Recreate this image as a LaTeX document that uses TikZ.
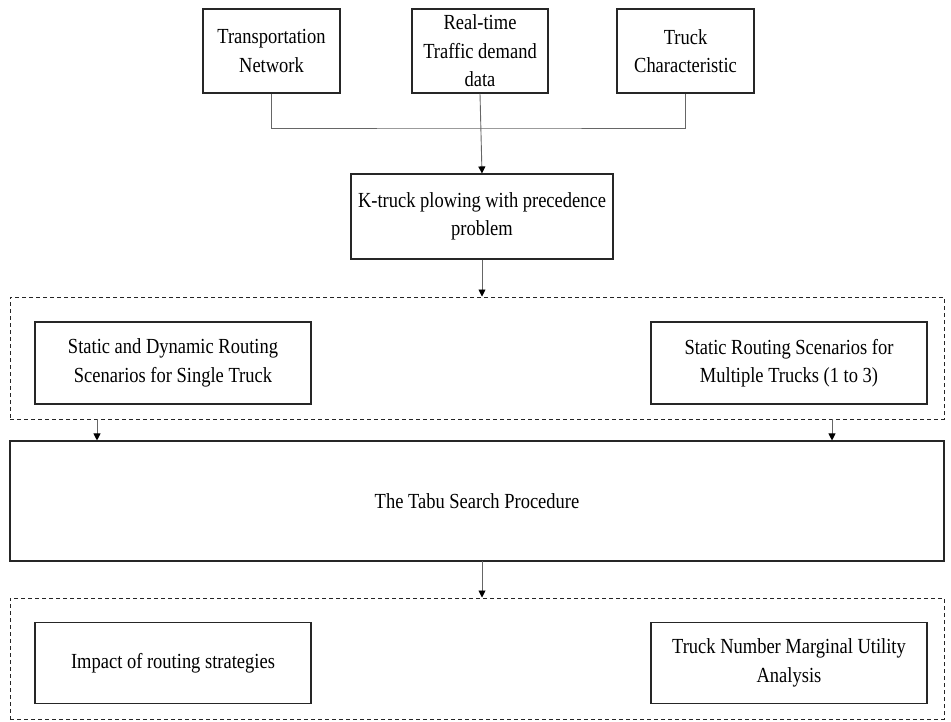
\documentclass[tikz,border=0pt]{standalone}
\usepackage{fontspec}
\setmainfont{Liberation Serif}[FakeStretch=0.86]
\usetikzlibrary{arrows.meta}
\begin{document}
\begin{tikzpicture}[x=1pt,y=-1pt,
  box/.style={draw=black!85, line width=1.1pt, align=center, inner sep=0pt,
    font=\fontsize{21.5}{28.5}\selectfont},
  dbox/.style={draw=black!85, line width=1pt, dash pattern=on 4pt off 3pt, inner sep=0pt},
  link/.style={draw=black!60, line width=0.9pt},
  arr/.style={link, -{Triangle[length=7pt,width=7pt,fill=black,color=black]}}]
\useasboundingbox (0,0) rectangle (951,721);
% top inputs
\node[box, minimum width=137pt, minimum height=84pt] (tn) at (271.5,51) {Transportation\\Network};
\node[box, minimum width=136pt, minimum height=84pt] (rt) at (480,51) {Real-time\\Traffic demand\\data};
\node[box, minimum width=137pt, minimum height=84pt] (tc) at (685.5,51) {Truck\\Characteristic};
\coordinate (j) at (480,128);
\draw[link] (tn.south) |- (j) -| (tc.south);
% problem
\node[box, minimum width=262pt, minimum height=85pt] (kt) at (482,216.5) {K-truck plowing with precedence\\problem};
\draw[arr] (rt.south) -- (kt.north);
% scenarios
\node[dbox, minimum width=934pt, minimum height=122pt] (d1) at (477,358) {};
\node[box, minimum width=276pt, minimum height=82pt] (sd) at (173,363) {Static and Dynamic Routing\\Scenarios for Single Truck};
\node[box, minimum width=276pt, minimum height=82pt] (sm) at (789,363) {Static Routing Scenarios for\\Multiple Trucks (1 to 3)};
\draw[arr] (kt.south) -- (kt.south |- d1.north);
% tabu
\node[box, minimum width=934pt, minimum height=120pt] (tabu) at (477,501) {The Tabu Search Procedure};
\coordinate (a1) at (97,419);
\coordinate (a2) at (832,419);
\draw[arr] (a1) -- (a1 |- tabu.north);
\draw[arr] (a2) -- (a2 |- tabu.north);
% results
\node[dbox, minimum width=934pt, minimum height=121pt] (d2) at (477,658.5) {};
\node[box, minimum width=276pt, minimum height=81pt] (im) at (173,663) {Impact of routing strategies};
\node[box, minimum width=276pt, minimum height=81pt] (tm) at (789,663) {Truck Number Marginal Utility\\Analysis};
\draw[arr] (482,561) coordinate (a3) -- (a3 |- d2.north);
\end{tikzpicture}
\end{document}
